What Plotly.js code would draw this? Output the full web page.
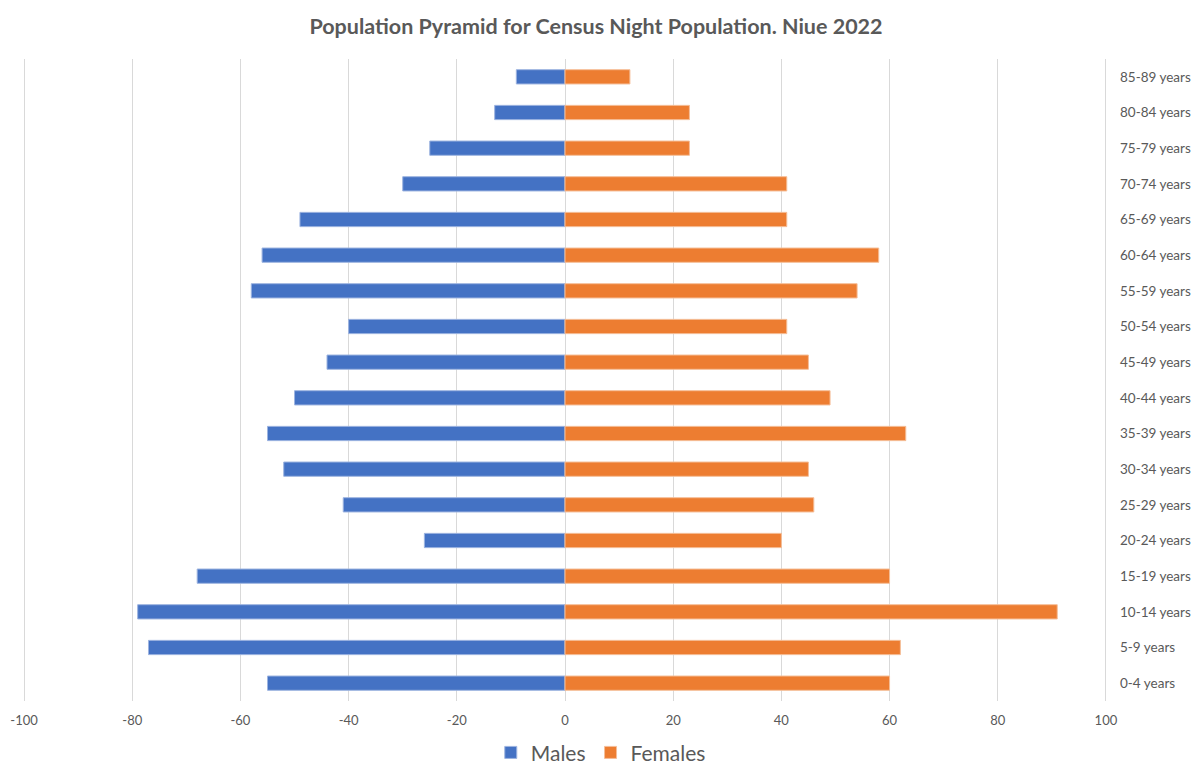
<!DOCTYPE html>
<html>
<head>
<meta charset="utf-8">
<script src="https://cdn.plot.ly/plotly-3.0.1.min.js"></script>
<style>html,body{margin:0;padding:0;background:#fff;}#chart{width:1192px;height:765px;}</style>
</head>
<body>
<div id="chart"></div>
<script>
const ageGroups = ["0-4 years","5-9 years","10-14 years","15-19 years","20-24 years","25-29 years","30-34 years","35-39 years","40-44 years","45-49 years","50-54 years","55-59 years","60-64 years","65-69 years","70-74 years","75-79 years","80-84 years","85-89 years"];
const males = [-55,-77,-79,-68,-26,-41,-52,-55,-50,-44,-40,-58,-56,-49,-30,-25,-13,-9];
const females = [60,62,91,60,40,46,45,63,49,45,41,54,58,41,41,23,23,12];
const xTickVals = [-100,-80,-60,-40,-20,0,20,40,60,80,100];
const xTickText = ["-100","-80","-60","-40","-20","0","20","40","60","80","100"];

const font = "Lato, 'Open Sans', sans-serif";
const traces = [
  {type:'bar', orientation:'h', name:'Males', y:ageGroups, x:males,
   marker:{color:'#4472C4', line:{color:'#9DB4E0', width:1}}},
  {type:'bar', orientation:'h', name:'Females', y:ageGroups, x:females,
   marker:{color:'#ED7D31', line:{color:'#F5BE98', width:1}}}
];
const layout = {
  width:1192, height:765,
  paper_bgcolor:'#fff', plot_bgcolor:'#fff',
  margin:{l:23, r:85, t:59, b:64},
  barmode:'relative', bargap:0.6,
  title:{text:'<b>Population Pyramid for Census Night Population. Niue 2022</b>', x:0.5, xref:'container', y:0.966, yanchor:'middle',
         font:{family:font, size:21.5, color:'#595959'}},
  xaxis:{range:[-100.2,100.2], tickvals:xTickVals, ticktext:xTickText, showgrid:true, gridcolor:'#D9D9D9', gridwidth:1,
         zeroline:true, zerolinecolor:'#D9D9D9', zerolinewidth:1, showline:false, ticks:'', ticklabelstandoff:10,
         tickfont:{family:font, size:13, color:'#595959'}, fixedrange:true},
  yaxis:{side:'right', type:'category', categoryorder:'array', categoryarray:ageGroups, showgrid:false, zeroline:false, showline:false,
         ticks:'', ticklabelstandoff:12, tickfont:{family:font, size:13.5, color:'#595959'}, fixedrange:true},
  showlegend:true,
  legend:{orientation:'h', x:0.504, xref:'container', xanchor:'center', y:0.016, yref:'container', yanchor:'middle',
          font:{family:font, size:21, color:'#595959'}, itemwidth:30, traceorder:'normal'},
  font:{family:font, color:'#595959'}
};
Plotly.newPlot('chart', traces, layout, {displayModeBar:false, staticPlot:true});
</script>
</body>
</html>
